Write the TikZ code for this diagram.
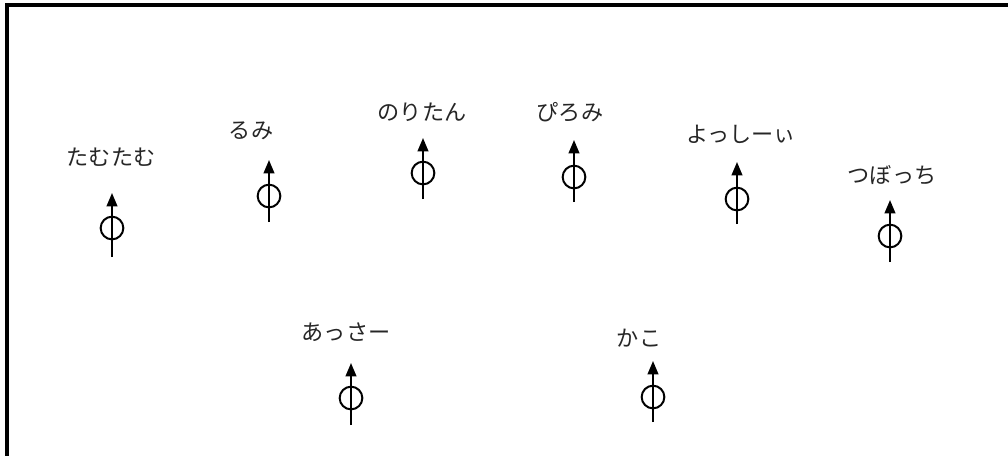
\documentclass[tikz,border=0pt]{standalone}
\usepackage{fontspec}
\newfontfamily\jpfont{Noto Sans CJK JP}
\usetikzlibrary{arrows.meta}
\tikzset{
  lbl/.style={font=\jpfont\fontsize{16.6pt}{19pt}\selectfont, inner sep=0pt, anchor=center, text=black!85},
  pin/.style={draw, circle, line width=1.5pt, minimum size=17pt, inner sep=0pt},
  stem/.style={line width=1.5pt, -{Triangle[length=10pt,width=8pt]}},
  frame/.style={line width=2.4pt}
}
\begin{document}
\begin{tikzpicture}[x=0.75pt,y=-0.75pt]
\useasboundingbox (0,0) rectangle (1008,455);
\coordinate (fa) at (7,460);
\coordinate (fb) at (7,5);
\coordinate (fc) at (1012,5);
\draw[frame] (fa) -- (fb) -- (fc);
% labels
\node[lbl] (t1) at (111,157) {たむたむ};
\node[lbl] (t2) at (251,131) {るみ};
\node[lbl] (t3) at (422,112) {のりたん};
\node[lbl] (t4) at (570,112) {ぴろみ};
\node[lbl] (t5) at (741,134) {よっしーぃ};
\node[lbl] (t6) at (892,175) {つぼっち};
\node[lbl] (t7) at (346,332) {あっさー};
\node[lbl] (t8) at (639,338) {かこ};
% symbols
\node[pin] (c1) at (112,228) {};
\coordinate (b1) at (112,257); \coordinate (a1) at (112,193);
\node[pin] (c2) at (269,196) {};
\coordinate (b2) at (269,222); \coordinate (a2) at (269,160);
\node[pin] (c3) at (423,173) {};
\coordinate (b3) at (423,199); \coordinate (a3) at (423,138);
\node[pin] (c4) at (574,177) {};
\coordinate (b4) at (574,202); \coordinate (a4) at (574,140);
\node[pin] (c5) at (737,199) {};
\coordinate (b5) at (737,224); \coordinate (a5) at (737,162);
\node[pin] (c6) at (890,236) {};
\coordinate (b6) at (890,262); \coordinate (a6) at (890,200);
\node[pin] (c7) at (351,398) {};
\coordinate (b7) at (351,425); \coordinate (a7) at (351,363);
\node[pin] (c8) at (653,397) {};
\coordinate (b8) at (653,422); \coordinate (a8) at (653,361);
\foreach \i in {1,...,8} {\draw[stem] (b\i) -- (a\i);}
\end{tikzpicture}
\end{document}
